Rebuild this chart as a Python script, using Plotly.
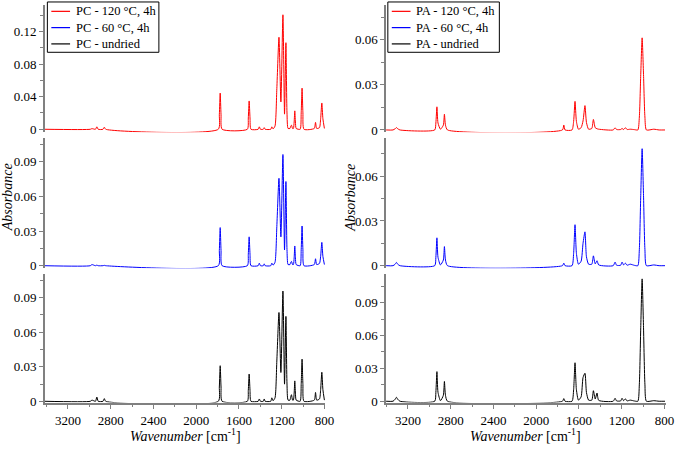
import plotly.graph_objects as go

# ---------------- data ----------------
pc_wavenumber = [3415, 2990, 2975, 2942, 2929, 2916, 2872, 2859, 2846,
                 1793, 1783, 1775, 1767, 1757,
                 1521, 1512, 1504, 1496, 1487,
                 1420, 1409, 1398, 1372, 1363, 1354, 1302, 1292, 1280,
                 1262, 1245, 1225, 1207, 1188, 1173, 1160, 1150, 1140,
                 1122, 1115, 1108, 1098,
                 1090, 1083, 1077, 1071, 1064,
                 1027, 1017, 1009, 1001, 991,
                 895, 883, 872, 846, 835, 824, 814, 800]
pc_120 = [0, 0, 0.0008, 0, 0.003, 0, 0, 0.0025, 0,
          0, 0.0178, 0.0444, 0.0178, 0,
          0, 0.0139, 0.0348, 0.0139, 0,
          0, 0.003, 0, 0, 0.002, 0, 0, 0.003, 0.0005,
          0.004, 0.05, 0.113, 0.0336, 0.1406, 0.0186, 0.1063, 0.02, 0.001,
          0.001, 0.004, 0.005, 0.001,
          0.001, 0.009, 0.0226, 0.009, 0.001,
          0, 0.0202, 0.0505, 0.0202, 0,
          0.001, 0.0085, 0.001, 0.002, 0.0129, 0.0323, 0.0129, 0.001]
pc_60 = [0, 0, 0.001, 0, 0.0005, 0, 0, 0.0003, 0,
         0, 0.0132, 0.033, 0.0132, 0,
         0, 0.01, 0.025, 0.01, 0,
         0, 0.0022, 0, 0, 0.0016, 0, 0, 0.0022, 0.0005,
         0.003, 0.034, 0.0757, 0.025, 0.0963, 0.0137, 0.0729, 0.014, 0.001,
         0.001, 0.003, 0.0037, 0.001,
         0.001, 0.0068, 0.0171, 0.0068, 0.001,
         0, 0.0138, 0.0344, 0.0138, 0,
         0.001, 0.006, 0.001, 0.002, 0.0081, 0.0202, 0.0081, 0.001]
pc_undried = [0, 0, 0.001, 0, 0.0037, 0, 0, 0.0023, 0,
              0, 0.0124, 0.0309, 0.0124, 0,
              0, 0.0095, 0.0237, 0.0095, 0,
              0, 0.002, 0, 0, 0.002, 0, 0, 0.003, 0.0005,
              0.003, 0.035, 0.0771, 0.025, 0.0957, 0.0149, 0.0737, 0.015, 0.001,
              0.001, 0.004, 0.0057, 0.001,
              0.001, 0.0071, 0.0177, 0.0071, 0.001,
              0, 0.0146, 0.0366, 0.0146, 0,
              0.001, 0.0077, 0.001, 0.002, 0.0101, 0.0252, 0.0101, 0.001]

pa_wavenumber = [3405, 3340, 3320, 3308, 3296, 3275,
                 2950, 2939, 2929, 2919, 2896, 2869, 2859, 2849, 2830,
                 1755, 1742, 1730,
                 1665, 1650, 1637, 1624, 1605,
                 1580, 1562, 1544, 1530, 1510,
                 1480, 1465, 1448, 1431, 1415,
                 1280, 1262, 1248, 1210, 1197, 1182, 1166, 1150, 1120, 1080,
                 1049, 1035, 1022, 1009, 996, 983, 969,
                 900, 850, 795]
pa_120 = [0, 0, 0.0008, 0.0016, 0.0008, 0,
          0, 0.0046, 0.0154, 0.0046, 0.0005, 0.0032, 0.0105, 0.0032, 0,
          0, 0.0033, 0,
          0, 0.0057, 0.019, 0.0057, 0.0005,
          0.0015, 0.006, 0.0162, 0.005, 0.0005,
          0.001, 0.007, 0.0015, 0.0008, 0.0005,
          0, 0.0015, 0.0003, 0.0003, 0.001, 0.0003, 0.0015, 0.0003, 0.0005, 0.0002,
          0, 0.0086, 0.0368, 0.0613, 0.0368, 0.0086, 0,
          0.0005, 0, 0]
pa_60 = [0, 0, 0.001, 0.0022, 0.001, 0,
         0, 0.0056, 0.0187, 0.0056, 0.0005, 0.0038, 0.0128, 0.0038, 0,
         0, 0.0017, 0,
         0, 0.0083, 0.0275, 0.0083, 0.001,
         0.003, 0.015, 0.0227, 0.006, 0.001,
         0.001, 0.0066, 0.0012, 0.0033, 0.0005,
         0, 0.0024, 0.0003, 0.0003, 0.0024, 0.0005, 0.0017, 0.0003, 0.001, 0.0002,
         0, 0.011, 0.047, 0.0785, 0.047, 0.011, 0,
         0.0005, 0, 0]
pa_undried = [0, 0, 0.0018, 0.0036, 0.0018, 0,
              0, 0.0081, 0.027, 0.0081, 0.0005, 0.0054, 0.018, 0.0054, 0,
              0, 0.0024, 0,
              0, 0.0105, 0.0351, 0.0105, 0.001,
              0.004, 0.0216, 0.0255, 0.008, 0.001,
              0.001, 0.0096, 0.002, 0.0075, 0.0008,
              0, 0.0027, 0.0003, 0.0003, 0.0027, 0.0005, 0.0022, 0.0003, 0.001, 0.0002,
              0, 0.0156, 0.067, 0.1116, 0.067, 0.0156, 0,
              0.0005, 0, 0]

pc_names = ["PC - 120 °C, 4h", "PC - 60 °C, 4h", "PC - undried"]
pa_names = ["PA - 120 °C, 4h", "PA - 60 °C, 4h", "PA - undried"]
colors = ["#ff0000", "#0000ff", "#000000"]

x_ticks_major = 400
x_ticks_minor = 200

# ---------------- figure ----------------
FONT = "Liberation Serif"
AXC = "#808080"
W, H = 685, 449

fig = go.Figure()

pc_series = [pc_120, pc_60, pc_undried]
pa_series = [pa_120, pa_60, pa_undried]
for i in range(3):
    fig.add_trace(go.Scatter(
        x=pc_wavenumber, y=pc_series[i], mode="lines", name=pc_names[i],
        line=dict(color=colors[i], width=1, shape="spline", smoothing=0.6),
        xaxis="x" if i == 0 else f"x{i+1}", yaxis="y" if i == 0 else f"y{i+1}",
        showlegend=False))
for i in range(3):
    fig.add_trace(go.Scatter(
        x=pa_wavenumber, y=pa_series[i], mode="lines", name=pa_names[i],
        line=dict(color=colors[i], width=1, shape="spline", smoothing=0.6),
        xaxis=f"x{i+4}", yaxis=f"y{i+4}", showlegend=False))


def px_y(top, bottom):
    return [1 - bottom / H, 1 - top / H]


row_dom = [px_y(5, 134), px_y(140, 272), px_y(278, 408)]
col_dom = [[45.5 / W, 329.8 / W], [391.2 / W, 674.4 / W]]
col_xrange = [[3415, 790], [3405, 790]]
y_ranges = [[-0.0036, 0.1527], [-0.0023, 0.1105], [-0.0011, 0.1103],
            [-0.0015, 0.0832], [-0.0018, 0.0856], [-0.0012, 0.1158]]
y_dticks = [0.04, 0.03, 0.03, 0.03, 0.03, 0.03]

layout = dict(
    width=W, height=H, margin=dict(l=0, r=0, t=0, b=0),
    plot_bgcolor="white", paper_bgcolor="white",
    font=dict(family=FONT, size=13, color="black"),
    showlegend=False,
)

for k in range(6):
    col = k // 3
    row = k % 3
    xname = "xaxis" if k == 0 else f"xaxis{k+1}"
    yname = "yaxis" if k == 0 else f"yaxis{k+1}"
    xa = "x" if k == 0 else f"x{k+1}"
    ya = "y" if k == 0 else f"y{k+1}"
    xdict = dict(domain=col_dom[col], range=col_xrange[col], anchor=ya,
                 showgrid=False, zeroline=False)
    if row == 2:
        xdict.update(showline=True, linecolor=AXC, linewidth=1.5,
                     ticks="outside", ticklen=5, tickcolor=AXC, tickwidth=1,
                     tickmode="linear", tick0=800, dtick=x_ticks_major,
                     minor=dict(ticks="outside", ticklen=3, tickcolor=AXC,
                                tickmode="linear", tick0=800, dtick=x_ticks_minor),
                     tickfont=dict(family=FONT, size=13, color="black"))
    else:
        xdict.update(visible=False)
    layout[xname] = xdict
    d = y_dticks[k]
    layout[yname] = dict(
        domain=row_dom[row], range=y_ranges[k], anchor=xa,
        showgrid=False, zeroline=False, showline=True, linecolor=AXC,
        linewidth=1.5, ticks="outside", ticklen=4, tickcolor=AXC,
        tickmode="linear", tick0=0, dtick=d,
        minor=dict(ticks="outside", ticklen=3, tickcolor=AXC,
                   tickmode="linear", tick0=0, dtick=d / 2),
        tickfont=dict(family=FONT, size=13, color="black"))

# ---- legends (box, line samples, labels) drawn in pixel positions ----
shapes = []
annotations = []
for (bx0, names) in [(48, pc_names), (393, pa_names)]:
    shapes.append(dict(type="rect", xref="paper", yref="paper",
                       x0=bx0 / W, x1=(bx0 + 113) / W, y0=1 - 53 / H, y1=1 - 2 / H,
                       line=dict(color="black", width=1), fillcolor="white",
                       layer="above"))
    for j, name in enumerate(names):
        yc = [11.5, 28, 44.5][j]
        shapes.append(dict(type="line", xref="paper", yref="paper",
                           x0=(bx0 + 4) / W, x1=(bx0 + 23) / W,
                           y0=1 - yc / H, y1=1 - yc / H,
                           line=dict(color=colors[j], width=1.2), layer="above"))
        annotations.append(dict(text=name, x=(bx0 + 27) / W, y=1 - yc / H,
                                xref="paper", yref="paper", showarrow=False,
                                xanchor="left", yanchor="middle",
                                font=dict(family=FONT, size=12.5, color="black")))

for xc in [7, 355]:
    annotations.append(dict(text="<i>Absorbance</i>", x=xc / W, y=1 - 200 / H,
                            xref="paper", yref="paper", showarrow=False,
                            textangle=-90, font=dict(family=FONT, size=14),
                            xanchor="center", yanchor="middle"))
for xc in [187.5, 532]:
    annotations.append(dict(text="<i>Wavenumber</i> [cm<sup>-1</sup>]",
                            x=xc / W, y=1 - 440.5 / H, xref="paper", yref="paper",
                            showarrow=False, font=dict(family=FONT, size=14),
                            xanchor="center", yanchor="middle"))
layout["annotations"] = annotations
layout["shapes"] = shapes

fig.update_layout(**layout)
fig.write_html("out.html", config={"displayModeBar": False},
               post_script="document.body.style.margin='0';"
                           "document.documentElement.style.overflow='hidden';")
